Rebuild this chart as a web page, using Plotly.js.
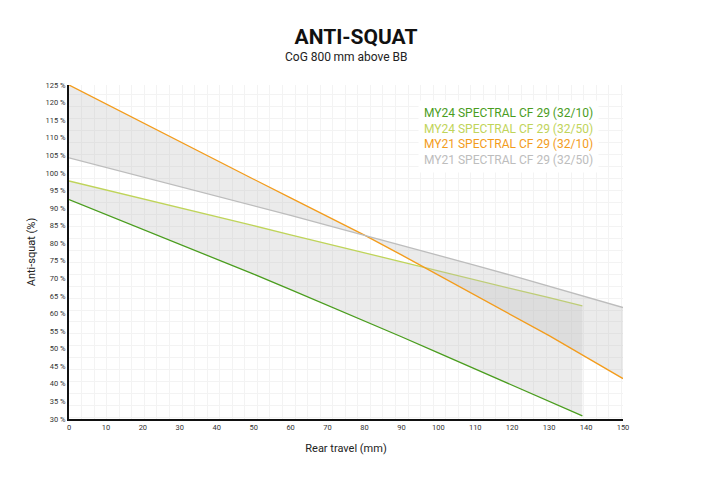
<!DOCTYPE html>
<html>
<head>
<meta charset="utf-8">
<script src="https://cdn.plot.ly/plotly-3.0.1.min.js"></script>
<style>
  body { margin: 0; background: #fff; }
  #wykres { width: 712px; height: 486px; }
</style>
</head>
<body>
<div id="wykres"></div>
<script>
// rear travel (mm)
var skok = [0, 10, 20, 30, 40, 50, 60, 70, 80, 90, 100, 110, 120, 130, 139]
var skokDlugi = [0, 10, 20, 30, 40, 50, 60, 70, 80, 90, 100, 110, 120, 130, 140, 150]

// anti-squat (%)
var my24_10 = [92.4, 88.2, 84.0, 79.8, 75.5, 71.2, 66.8, 62.4, 57.9, 53.4, 48.8, 44.2, 39.6, 34.9, 30.9]
var my24_50 = [97.7, 95.2, 92.6, 90.1, 87.5, 85.0, 82.4, 79.8, 77.3, 74.7, 72.1, 69.6, 67.0, 64.5, 62.2]
var my21_10 = [125.0, 119.6, 114.2, 108.8, 103.5, 98.2, 92.9, 87.6, 82.3, 76.7, 71.0, 65.3, 59.5, 53.7, 47.6, 41.5]
var my21_50 = [104.3, 101.6, 98.9, 96.2, 93.5, 90.7, 87.9, 85.1, 82.3, 79.5, 76.6, 73.7, 70.8, 67.8, 64.8, 61.7]

var nazwy = ['MY24 SPECTRAL CF 29 (32/10)', 'MY24 SPECTRAL CF 29 (32/50)', 'MY21 SPECTRAL CF 29 (32/10)', 'MY21 SPECTRAL CF 29 (32/50)']
var kolory = ['#4a9d1e', '#bfd45a', '#f39c1c', '#bdbdbd']
var yTicks = [30, 35, 40, 45, 50, 55, 60, 65, 70, 75, 80, 85, 90, 95, 100, 105, 110, 115, 120, 125]
var xTicks = [0, 10, 20, 30, 40, 50, 60, 70, 80, 90, 100, 110, 120, 130, 140, 150]

function linia(x, y, i, wypelnij)
{
	var trace = {
		type: 'scatter',
		mode: 'lines',
		name: nazwy[i],
		x: x,
		y: y,
		line: {width: 1.3, color: kolory[i]},
		showlegend: false,
		hoverinfo: 'skip'
	}
	if(wypelnij)
	{
		trace.fill = 'tonexty'
		trace.fillcolor = 'rgba(190,190,190,0.3)'
	}
	return trace
}

var dane = [
	linia(skok, my24_10, 0, false),
	linia(skok, my24_50, 1, true),
	linia(skokDlugi, my21_10, 2, false),
	linia(skokDlugi, my21_50, 3, true)
]

// legend as coloured text lines
var legenda = []
for(var i=0;i<nazwy.length;i++)
{
	legenda.push('<span style="color:'+kolory[i]+'">'+nazwy[i]+'</span>')
}

var yTekst = []
for(var j=0;j<yTicks.length;j++)
{
	yTekst.push(yTicks[j]+' %')
}

var czcionka = 'Roboto, "DejaVu Sans", sans-serif'

var layout = {
	width: 712,
	height: 486,
	paper_bgcolor: '#fff',
	plot_bgcolor: '#fff',
	margin: {l: 69, r: 89, t: 85, b: 67},
	font: {family: czcionka, color: '#222'},
	title: {
		text: '<b>ANTI-SQUAT</b>',
		font: {size: 21, color: '#111'},
		x: 0.5,
		xanchor: 'center',
		y: 0.925,
		yanchor: 'middle'
	},
	xaxis: {
		range: [0, 150],
		tickvals: xTicks,
		ticks: '',
		showgrid: false,
		zeroline: false,
		showline: true,
		linecolor: '#111',
		linewidth: 2,
		tickfont: {size: 7.5, color: '#333'},
		minor: {dtick: 3.4, tick0: 0, ticks: '', showgrid: true, gridcolor: '#f3f3f3', gridwidth: 1},
		title: {text: 'Rear travel (mm)', font: {size: 11, color: '#222'}, standoff: 13}
	},
	yaxis: {
		range: [30, 125],
		tickvals: yTicks,
		ticktext: yTekst,
		ticks: '',
		showgrid: false,
		zeroline: false,
		showline: true,
		linecolor: '#111',
		linewidth: 2,
		tickfont: {size: 7.5, color: '#333'},
		minor: {dtick: 3.4, tick0: 30.4, ticks: '', showgrid: true, gridcolor: '#f3f3f3', gridwidth: 1},
		title: {text: 'Anti-squat (%)', font: {size: 11, color: '#222'}, standoff: 8}
	},
	annotations: [{
		xref: 'paper', yref: 'paper',
		x: 0.5, y: 1.084,
		xanchor: 'center', yanchor: 'middle',
		showarrow: false,
		font: {size: 12, color: '#222', family: czcionka},
		text: 'CoG 800\u2009mm above BB'
	}, {
		xref: 'paper', yref: 'paper',
		x: 0.63, y: 0.847,
		xanchor: 'left', yanchor: 'middle',
		align: 'left',
		showarrow: false,
		bgcolor: '#fff',
		borderpad: 5,
		font: {size: 12, family: czcionka},
		text: legenda.join('<br>')
	}]
}

Plotly.newPlot('wykres', dane, layout, {displayModeBar: false, staticPlot: true})
</script>
</body>
</html>
